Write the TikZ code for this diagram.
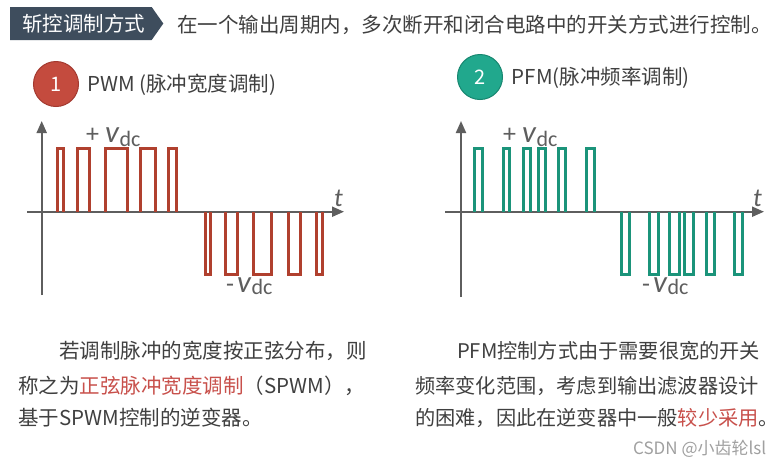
\documentclass[tikz,border=0pt]{standalone}
\usepackage{fontspec}
\setmainfont{Noto Sans CJK SC}
\newfontfamily\carl{Carlito}
\usetikzlibrary{arrows.meta}
\definecolor{banner}{HTML}{3E4D5D}
\definecolor{txtc}{HTML}{404040}
\definecolor{redtxt}{HTML}{C8504B}
\definecolor{redc}{HTML}{C44B3E}
\definecolor{redcb}{HTML}{A3392F}
\definecolor{tealc}{HTML}{21A88D}
\definecolor{tealcb}{HTML}{16866F}
\definecolor{pred}{HTML}{B0402E}
\definecolor{pteal}{HTML}{1B947A}
\definecolor{axc}{HTML}{5E5E5E}
\definecolor{wm}{HTML}{A0A0A0}
\begin{document}
\begin{tikzpicture}[x=1pt,y=-1pt,
  txt/.style={inner sep=0pt, anchor=base west, text=txtc, font=\fontsize{20.5}{24}\selectfont},
  rtxt/.style={inner sep=0pt, anchor=base west, text=txtc, font=\fontsize{20.2}{24}\selectfont},
  numc/.style={circle, minimum size=45pt, inner sep=0pt, line width=1pt, text=white, font=\fontsize{20}{24}\selectfont},
  axis/.style={draw=axc, line width=2pt, -{Triangle[length=12pt,width=10pt]}},
  pulse/.style={line width=3pt, line join=miter},
  vlab/.style={inner sep=0pt, anchor=base west, text=axc},
]
\fill[white] (0,0) rectangle (783,467);
\useasboundingbox (0,0) rectangle (783,467);

% header banner
\fill[banner] (10,7) -- (151.7,7) -- (163.3,23.5) -- (151.7,40) -- (10,40) -- cycle;
\node[txt, text=white] (bt) at (22,31.8) {斩控调制方式};
\node[txt] (ht) at (177,32.5) {在一个输出周期内，多次断开和闭合电路中的开关方式进行控制。};

% section titles
\node[numc, fill=redc, draw=redcb] (c1) at (56,84) {1};
\node[txt] (t1) at (87,91) {PWM (脉冲宽度调制)};
\node[numc, fill=tealc, draw=tealcb] (c2) at (480,77) {2};
\node[txt] (t2) at (511.5,84.5) {PFM(脉冲频率调制)};

% left axes
\coordinate (lyb) at (41.7,295);
\coordinate (lyt) at (41.7,121);
\coordinate (lxl) at (27,211.7);
\coordinate (lxr) at (344,211.7);
\draw[axis] (lyb) -- (lyt);
\draw[axis] (lxl) -- (lxr);
\foreach \a/\b in {57/63, 77.5/89.5, 105.5/127, 140.5/155, 168.5/176}
  \draw[pulse, pred] (\a,211.7) -- (\a,148.3) -- (\b,148.3) -- (\b,211.7);
\foreach \a/\b in {205.5/210.5, 225/237, 253.5/271, 288.5/300.5, 316/322}
  \draw[pulse, pred] (\a,211.7) -- (\a,274) -- (\b,274) -- (\b,211.7);
\node[vlab] (lp) at (86,142) {\carl\fontsize{26}{28}\selectfont +\hspace{6pt}\fontsize{31}{32}\selectfont\textit{v}\raisebox{-4pt}{\fontsize{22}{24}\selectfont dc}};
\node[vlab] (lm) at (226,292.5) {\carl\fontsize{26}{28}\selectfont -\hspace{3pt}\fontsize{31}{32}\selectfont\textit{v}\raisebox{-2pt}{\fontsize{22}{24}\selectfont dc}};
\node[vlab] (lt) at (334,206.5) {\carl\fontsize{26}{28}\selectfont\textit{t}};

% right axes
\coordinate (ryb) at (461,297);
\coordinate (ryt) at (461,121);
\coordinate (rxl) at (445,211.7);
\coordinate (rxr) at (764,211.7);
\draw[axis] (ryb) -- (ryt);
\draw[axis] (rxl) -- (rxr);
\foreach \a/\b in {474.5/482, 503/509.5, 523.5/530, 538/545, 558.5/565.5, 586/594}
  \draw[pulse, pteal] (\a,211.7) -- (\a,148.3) -- (\b,148.3) -- (\b,211.7);
\foreach \a/\b in {621/629.5, 649.5/658, 669.5/679, 684.5/693, 706/714, 734/742}
  \draw[pulse, pteal] (\a,211.7) -- (\a,274) -- (\b,274) -- (\b,211.7);
\node[vlab] (rp) at (503,142) {\carl\fontsize{26}{28}\selectfont +\hspace{6pt}\fontsize{31}{32}\selectfont\textit{v}\raisebox{-4pt}{\fontsize{22}{24}\selectfont dc}};
\node[vlab] (rm) at (642,292.5) {\carl\fontsize{26}{28}\selectfont -\hspace{3pt}\fontsize{31}{32}\selectfont\textit{v}\raisebox{-2pt}{\fontsize{22}{24}\selectfont dc}};
\node[vlab] (rt) at (753,206) {\carl\fontsize{26}{28}\selectfont\textit{t}};

% left paragraph
\node[txt] (l1) at (59,358.8) {若调制脉冲的宽度按正弦分布，则};
\node[txt] (l2) at (18,393.3) {称之为\textcolor{redtxt}{正弦脉冲宽度调制}（SPWM），};
\node[txt] (l3) at (18,425.8) {基于SPWM控制的逆变器。};

% right paragraph
\node[rtxt] (r1) at (457,358.8) {PFM控制方式由于需要很宽的开关};
\node[rtxt] (r2) at (415,393.3) {频率变化范围，考虑到输出滤波器设计};
\node[rtxt] (r3) at (415,425.8) {的困难，因此在逆变器中一般\textcolor{redtxt}{较少采用}。};

% watermark
\node[inner sep=0pt, anchor=base west, text=wm, font=\fontsize{17}{20}\selectfont] (wmk) at (633,454) {CSDN @小齿轮lsl};
\end{tikzpicture}
\end{document}
